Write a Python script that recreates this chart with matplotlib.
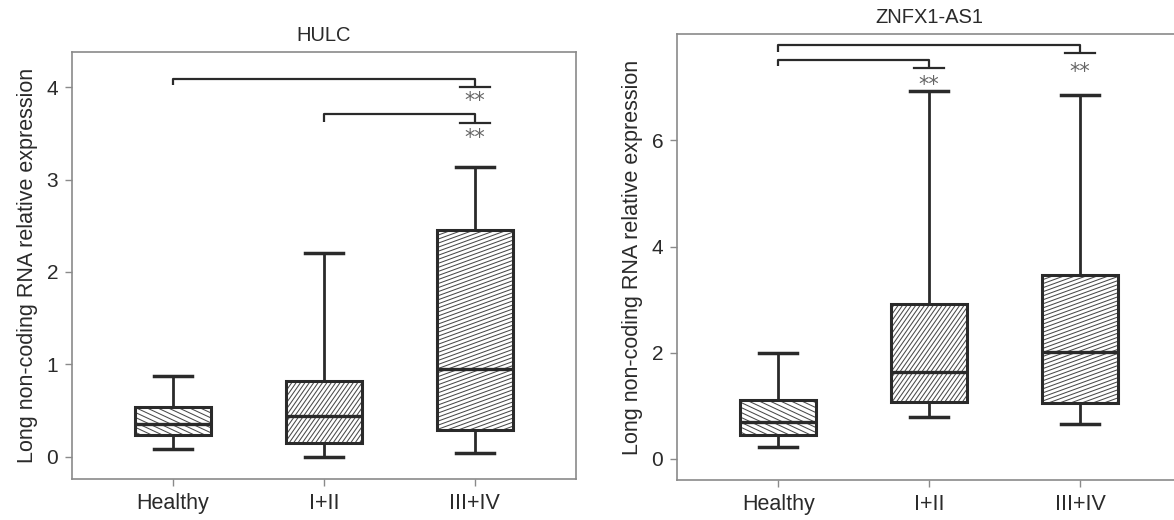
import numpy as np
import matplotlib
matplotlib.use("Agg")
import matplotlib.pyplot as plt
from matplotlib.collections import LineCollection
from matplotlib.transforms import IdentityTransform

plt.rcParams['font.family'] = ['Liberation Sans', 'DejaVu Sans']

# groups on the x axis
groups = ['Healthy', 'I+II', 'III+IV']

# HULC box summaries
hulc_whislo = [0.09, 0.00, 0.04]
hulc_q1 = [0.24, 0.155, 0.29]
hulc_med = [0.36, 0.44, 0.95]
hulc_q3 = [0.54, 0.82, 2.45]
hulc_whishi = [0.87, 2.20, 3.14]

# ZNFX1-AS1 box summaries
znfx_whislo = [0.22, 0.78, 0.65]
znfx_q1 = [0.45, 1.07, 1.06]
znfx_med = [0.70, 1.64, 2.02]
znfx_q3 = [1.11, 2.92, 3.47]
znfx_whishi = [2.00, 6.94, 6.86]

# significance brackets: (from group, to group, bar y, left drop y, right drop y, star y)
hulc_sig = [(0, 2, 4.09, 4.02, 4.00, 3.89), (1, 2, 3.71, 3.62, 3.61, 3.49)]
znfx_sig = [(0, 2, 7.80, 7.66, 7.65, 7.36), (0, 1, 7.52, 7.41, 7.37, 7.11)]

line_c = '#2a2a2a'
frame_c = '#8a8a8a'
text_c = '#2a2a2a'

fig = plt.figure(figsize=(11.74, 5.2), dpi=100)


def hatch_box(ax, patch, angle, spacing):
    # draw slanted lines in pixel space, clipped to the box
    bb = patch.get_window_extent()
    cx, cy = (bb.x0 + bb.x1) / 2, (bb.y0 + bb.y1) / 2
    a = np.deg2rad(angle)
    d = np.array([np.cos(a), np.sin(a)])
    n = np.array([-np.sin(a), np.cos(a)])
    L = np.hypot(bb.width, bb.height)
    segs = []
    for c in np.arange(-L, L, spacing):
        p = np.array([cx, cy]) + c * n
        segs.append([p - L * d, p + L * d])
    lc = LineCollection(segs, colors='#4a4a4a', linewidths=0.75,
                        transform=IdentityTransform(), zorder=2.5)
    lc.set_clip_path(patch)
    ax.add_collection(lc, autolim=False)


def panel(rect, title, lo, q1, med, q3, hi, sig, ylim, yticks):
    ax = fig.add_axes(rect)
    stats = []
    for i in range(len(groups)):
        stats.append(dict(whislo=lo[i], q1=q1[i], med=med[i], q3=q3[i],
                          whishi=hi[i], label=groups[i]))
    pos = np.arange(1, len(groups) + 1)
    bp = ax.bxp(stats, positions=pos, widths=0.5, patch_artist=True,
                showfliers=False,
                boxprops=dict(facecolor='none', edgecolor=line_c, linewidth=2.2, zorder=3),
                medianprops=dict(color=line_c, linewidth=2.4, zorder=3.5),
                whiskerprops=dict(color=line_c, linewidth=2),
                capprops=dict(color=line_c, linewidth=2.5),
                capwidths=0.25)
    ax.set_xlim(0.33, 3.67)
    ax.set_ylim(*ylim)
    ax.set_yticks(yticks)
    ax.set_xticks(pos)
    ax.set_xticklabels(groups)
    for b, ang, sp in zip(bp['boxes'], [-25, 55, 20], [4.5, 3.6, 3.8]):
        hatch_box(ax, b, ang, sp)

    for i, j, yb, yl, yr, ys in sig:
        x1, x2 = pos[i], pos[j]
        ax.plot([x1, x1, x2, x2], [yl, yb, yb, yr], color=line_c, lw=1.6,
                solid_capstyle='butt')
        ax.plot([x2 - 0.1, x2 + 0.1], [yr, yr], color=line_c, lw=1.6)
        # asterisk glyph sits high in its box, so nudge it down a little
        ax.annotate('**', (x2, ys), xytext=(0, -2.5), textcoords='offset points',
                    ha='center', va='center', fontsize=15,
                    color='#666666', family='DejaVu Sans')

    for s in ax.spines.values():
        s.set_color(frame_c)
        s.set_linewidth(1.2)
    ax.tick_params(colors=frame_c, labelcolor=text_c, labelsize=15, length=5,
                   width=1, pad=5)
    ax.tick_params(axis='x', labelsize=15.5)
    ax.set_ylabel('Long non-coding RNA relative expression', fontsize=15.5,
                  color=text_c, labelpad=6)
    ax.set_title(title, fontsize=14.5, color=text_c, pad=8)
    return ax


panel([0.0613, 0.0788, 0.4293, 0.8212], 'HULC',
      hulc_whislo, hulc_q1, hulc_med, hulc_q3, hulc_whishi, hulc_sig,
      (-0.24, 4.38), [0, 1, 2, 3, 4])
panel([0.5767, 0.0769, 0.4293, 0.857], 'ZNFX1-AS1',
      znfx_whislo, znfx_q1, znfx_med, znfx_q3, znfx_whishi, znfx_sig,
      (-0.4, 8.0), [0, 2, 4, 6])

plt.savefig('out.png', dpi=100)
